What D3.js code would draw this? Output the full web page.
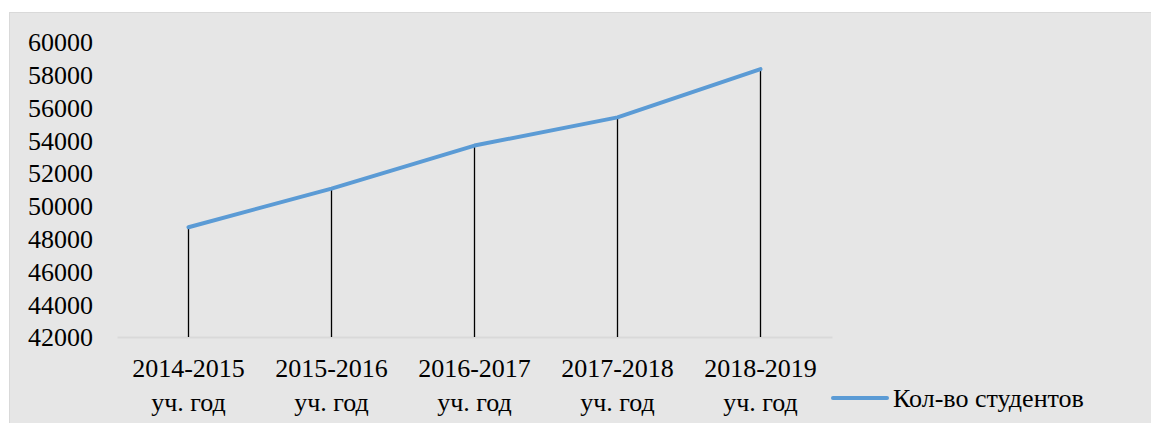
<!DOCTYPE html>
<html>
<head>
<meta charset="utf-8">
<script src="https://d3js.org/d3.v7.min.js"></script>
<style>
    body { margin: 0; background: #fff; }
</style>
</head>
<body>
<svg id="chart" width="1151" height="423"></svg>
<script>
    // data
    const years = ["2014-2015", "2015-2016", "2016-2017", "2017-2018", "2018-2019"];
    const yearSuffix = "уч. год";
    const students = [48700, 51050, 53680, 55400, 58350];
    const yTicks = [42000, 44000, 46000, 48000, 50000, 52000, 54000, 56000, 58000, 60000];
    const seriesName = "Кол-во студентов";

    const FONT = "font-family:'Liberation Serif';font-size:26px;fill:#000";

    const svg = d3.select("#chart");
    const margin = { top: 42, right: 319, bottom: 86, left: 117 };
    const width = +svg.attr("width");
    const height = +svg.attr("height");

    // chart area background
    svg.append("rect")
        .attr("x", 9.5).attr("y", 12.5)
        .attr("width", width).attr("height", height)
        .attr("fill", "#e6e6e6")
        .attr("stroke", "#d9d9d9");

    const x = d3.scaleBand().domain(years).range([margin.left, width - margin.right]);
    const y = d3.scaleLinear().domain([42000, 60000]).range([height - margin.bottom, margin.top]);

    const data = years.map((yr, i) => ({ year: yr, value: students[i] }));

    // y axis
    const yAxis = svg.append("g")
        .attr("transform", "translate(" + (margin.left - 24) + ",0)")
        .call(d3.axisLeft(y).tickValues(yTicks).tickSize(0).tickPadding(0).tickFormat(d3.format("d")));
    yAxis.attr("font-family", null).attr("font-size", null);
    yAxis.select(".domain").remove();
    yAxis.selectAll("text").attr("style", FONT).attr("dy", "0.34em");

    // x axis
    const xAxis = svg.append("g")
        .attr("transform", "translate(0," + y(42000) + ")")
        .call(d3.axisBottom(x).tickSize(0).tickSizeOuter(0).tickFormat(""));
    xAxis.attr("font-family", null).attr("font-size", null);
    xAxis.select(".domain").attr("stroke", "#d9d9d9").attr("stroke-width", 2);

    xAxis.selectAll(".tick").each(function(d) {
        const t = d3.select(this).append("text")
            .attr("text-anchor", "middle")
            .attr("style", FONT);
        t.append("tspan").attr("x", 0).attr("y", 40).text(d);
        t.append("tspan").attr("x", 0).attr("y", 74).text(yearSuffix);
    });

    // drop lines
    svg.append("g").selectAll("line")
        .data(data)
        .join("line")
        .attr("x1", d => x(d.year) + x.bandwidth() / 2)
        .attr("x2", d => x(d.year) + x.bandwidth() / 2)
        .attr("y1", d => y(d.value))
        .attr("y2", y(42000))
        .attr("stroke", "#000")
        .attr("stroke-width", 1.3);

    // series line
    const line = d3.line()
        .x(d => x(d.year) + x.bandwidth() / 2)
        .y(d => y(d.value));

    svg.append("path")
        .datum(data)
        .attr("d", line)
        .attr("fill", "none")
        .attr("stroke", "#5b9bd5")
        .attr("stroke-width", 4)
        .attr("stroke-linecap", "round")
        .attr("stroke-linejoin", "round");

    // legend
    const legend = svg.append("g").attr("transform", "translate(833,398)");
    legend.append("line")
        .attr("x1", 0).attr("x2", 54)
        .attr("y1", 0).attr("y2", 0)
        .attr("stroke", "#5b9bd5")
        .attr("stroke-width", 4)
        .attr("stroke-linecap", "round");
    legend.append("text")
        .attr("x", 60).attr("y", 9)
        .attr("style", FONT)
        .text(seriesName);
</script>
</body>
</html>
